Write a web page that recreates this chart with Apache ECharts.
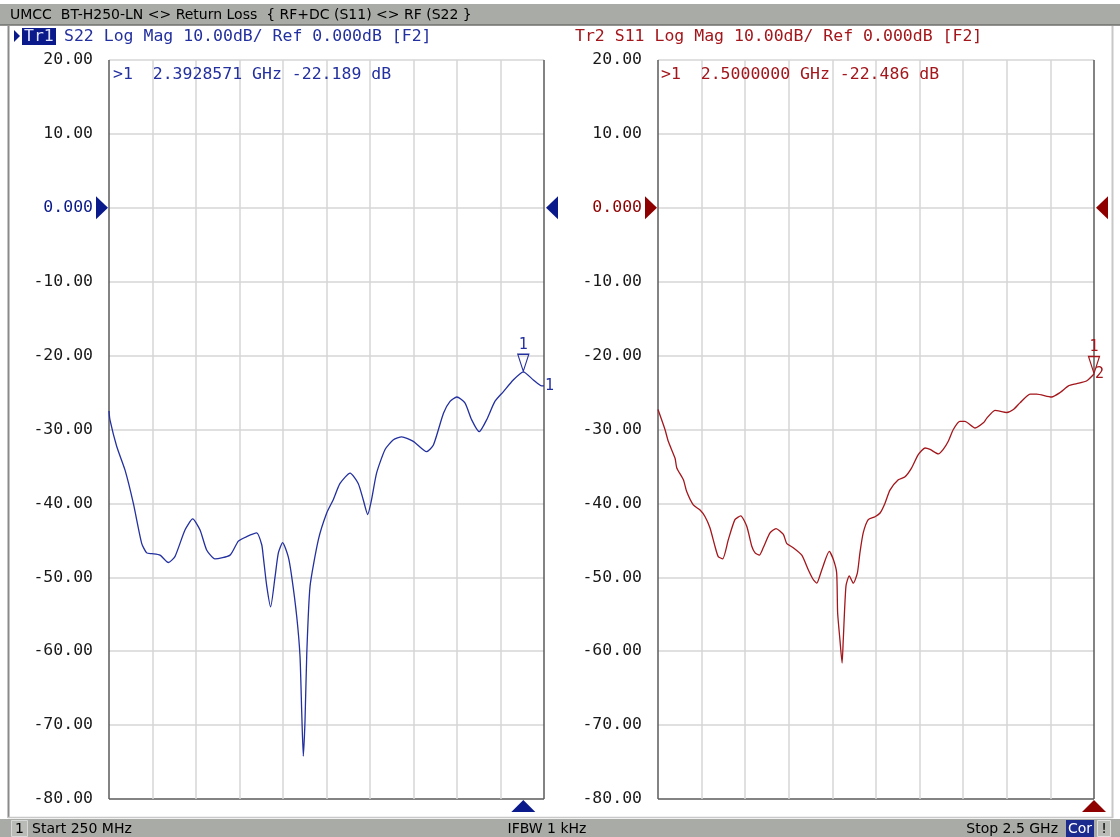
<!DOCTYPE html>
<html><head><meta charset="utf-8">
<script src="https://cdn.jsdelivr.net/npm/echarts@6/dist/echarts.min.js"></script>
<style>html,body{margin:0;padding:0;background:#fff}#c{width:1120px;height:837px}</style>
</head><body><div id="c"></div>
<script>
// ---- data (frequency in MHz, magnitude in dB) ----
const freqS22 = [250,255,290,333,376,419,445,472,514,557,591,643,683,721,755,798,876,919,962,1014,1040,1048,1066,1086,1109,1126,1148,1177,1195,1221,1238,1247,1255,1264,1273,1290,1333,1376,1410,1445,1497,1539,1565,1588,1608,1634,1678,1721,1764,1824,1893,1928,1980,2014,2049,2091,2126,2165,2203,2246,2289,2341,2392.8571,2445,2488,2500];
const dbS22   = [-27.5,-28.7,-32.3,-35.5,-40.0,-45.4,-46.7,-46.8,-47.0,-48.0,-47.2,-43.6,-42.1,-43.6,-46.3,-47.5,-47.0,-45.1,-44.5,-44.0,-45.6,-47.2,-51.2,-54.0,-49.9,-46.7,-45.3,-47.2,-49.9,-55.3,-60.7,-68.4,-74.2,-69.3,-60.3,-51.2,-44.9,-41.3,-39.5,-37.3,-35.9,-37.3,-39.5,-41.5,-39.5,-35.9,-32.7,-31.4,-31.0,-31.6,-33.0,-32.1,-27.8,-26.2,-25.6,-26.4,-28.7,-30.3,-28.7,-26.2,-24.9,-23.3,-22.189,-23.3,-24.1,-24.1];
const freqS11 = [250,286,303,338,347,381,398,432,467,493,518,544,561,584,613,647,677,708,734,751,773,793,828,859,897,914,948,992,1026,1051,1069,1095,1134,1155,1172,1177,1189,1200,1206,1220,1237,1258,1279,1292,1309,1335,1370,1396,1421,1447,1490,1525,1559,1593,1628,1654,1697,1722,1748,1774,1808,1834,1886,1929,1946,1989,2050,2084,2118,2170,2204,2281,2325,2368,2411,2463,2500];
const dbS11   = [-27.3,-30.0,-31.6,-33.9,-35.2,-36.8,-38.4,-40.2,-40.9,-41.8,-43.3,-45.8,-47.2,-47.5,-44.9,-42.2,-41.7,-43.1,-45.8,-46.7,-47.0,-46.0,-44.0,-43.4,-44.2,-45.4,-46.0,-47.0,-49.0,-50.3,-50.8,-49.0,-46.5,-47.6,-49.4,-54.8,-58.5,-61.6,-58.5,-51.2,-49.8,-50.8,-49.4,-46.7,-44.0,-42.2,-41.8,-41.3,-40.0,-38.2,-36.8,-36.4,-35.2,-33.4,-32.5,-32.7,-33.3,-32.7,-31.6,-30.0,-28.9,-28.9,-29.8,-29.1,-28.5,-27.4,-27.7,-27.3,-26.4,-25.2,-25.2,-25.6,-25.0,-24.1,-23.8,-23.4,-22.486];
const markerS22 = {freq: 2392.8571, db: -22.189};
const markerS11 = {freq: 2500.0, db: -22.486};
const freqStart = 250, freqStop = 2500;
const yMin = -80, yMax = 20, yStep = 10;
const headerS22 = 'S22 Log Mag 10.00dB/ Ref 0.000dB [F2]';
const headerS11 = 'Tr2 S11 Log Mag 10.00dB/ Ref 0.000dB [F2]';
const readoutS22 = '>1  2.3928571 GHz -22.189 dB';
const readoutS11 = '>1  2.5000000 GHz -22.486 dB';
const titleText = 'UMCC  BT-H250-LN <> Return Loss  { RF+DC (S11) <> RF (S22 }';

const BLUE = '#23309f', BLUE_D = '#0b1a8a', RED = '#a3161b', RED_D = '#8e0000';
const MONO = '"DejaVu Sans Mono", monospace';
const SANS = '"DejaVu Sans", sans-serif';
const GRIDC = '#d6d6d6', FRAME = '#5a5a5a';

const pairs = (f, d) => f.map((x, i) => [x, d[i]]);
const fmt = v => v === 0 ? '0.000' : v.toFixed(2);
// line colours per grid line: frame colour at the frame edges, light grey inside
const yLineColors = Array.from({length: (yMax - yMin) / yStep + 1}, (_, i) => i === 0 ? FRAME : GRIDC);
const xLineColors = Array.from({length: 11}, (_, i) => (i === 0 || i === 10) ? FRAME : GRIDC);

const chart = echarts.init(document.getElementById('c'));

function yAxis(gi, zeroColor) {
  return {
    gridIndex: gi, type: 'value', min: yMin, max: yMax, interval: yStep,
    axisLine: {show: false}, axisTick: {show: false},
    splitLine: {show: true, lineStyle: {color: yLineColors, width: 1.5}},
    axisLabel: {margin: 16, fontFamily: MONO, fontSize: 16.5, formatter: fmt,
      color: v => (Number(v) === 0 ? zeroColor : '#1a1a1a')}
  };
}
function freqAxis(gi) {
  return {gridIndex: gi, type: 'value', min: freqStart, max: freqStop, show: false};
}
function divAxis(gi) {
  return {gridIndex: gi, type: 'value', min: 0, max: 10, interval: 1, position: 'top',
    axisLine: {show: false}, axisTick: {show: false}, axisLabel: {show: false},
    splitLine: {show: true, lineStyle: {color: xLineColors, width: 1.5}}};
}

const triRight = 'path://M0,0 L10,10 L0,20 Z';
const triLeft = 'path://M10,0 L0,10 L10,20 Z';
const triDown = 'path://M0,0 L12,0 L6,18 Z';

function marks(mk, col, dark) {
  return {
    silent: true, animation: false,
    data: [
      {coord: [freqStart, 0], symbol: triRight, symbolSize: [12, 23], symbolOffset: [-7, 0], itemStyle: {color: dark}, label: {show: false}},
      {coord: [freqStop, 0], symbol: triLeft, symbolSize: [12, 23], symbolOffset: [8, 0], itemStyle: {color: dark}, label: {show: false}},
      {coord: [mk.freq, yMin], symbol: 'triangle', symbolSize: [24, 12], symbolOffset: [0, 7], itemStyle: {color: dark}, label: {show: false}},
      {coord: [mk.freq, mk.db], symbol: triDown, symbolSize: [11, 17], symbolOffset: [0, -9],
        itemStyle: {color: 'rgba(0,0,0,0)', borderColor: col, borderWidth: 1.3},
        label: {show: true, position: 'top', distance: 1, formatter: '1', color: col, fontFamily: MONO, fontSize: 15}}
    ]
  };
}

function series(name, xi, yi, data, col, dark, mk, endTxt) {
  return {
    name, type: 'line', xAxisIndex: xi, yAxisIndex: yi, data,
    showSymbol: false, smooth: 0.2, animation: false, z: 3,
    lineStyle: {color: col, width: 1.3},
    endLabel: {show: true, formatter: endTxt, color: col, fontFamily: MONO, fontSize: 15, distance: 1},
    markPoint: marks(mk, col, dark)
  };
}

const g = [];
// title bar
g.push({type: 'rect', shape: {x: 0, y: 4, width: 1120, height: 21}, style: {fill: '#a9aba7'}});
g.push({type: 'line', shape: {x1: 0, y1: 25, x2: 1120, y2: 25}, style: {stroke: '#6f716d', lineWidth: 1.5}});
g.push({type: 'text', x: 10, y: 15, style: {text: titleText, font: '14px ' + SANS, fill: '#000', textVerticalAlign: 'middle'}});
// window frame
g.push({type: 'line', shape: {x1: 8.5, y1: 26, x2: 8.5, y2: 818}, style: {stroke: '#8a8a8a', lineWidth: 2}});
g.push({type: 'line', shape: {x1: 1112.5, y1: 26, x2: 1112.5, y2: 818}, style: {stroke: '#c8c8c8', lineWidth: 2}});
g.push({type: 'line', shape: {x1: 8, y1: 817.5, x2: 1113, y2: 817.5}, style: {stroke: '#c8c8c8', lineWidth: 1.5}});
// headers
g.push({type: 'polygon', shape: {points: [[14, 30], [20, 36], [14, 42]]}, style: {fill: BLUE_D}});
g.push({type: 'rect', shape: {x: 22, y: 28, width: 34, height: 17}, style: {fill: BLUE_D}});
g.push({type: 'text', x: 24, y: 37, style: {text: 'Tr1', font: '16.5px ' + MONO, fill: '#dfe3ff', textVerticalAlign: 'middle'}});
g.push({type: 'text', x: 64, y: 37, style: {text: headerS22, font: '16.5px ' + MONO, fill: BLUE, textVerticalAlign: 'middle'}});
g.push({type: 'text', x: 575, y: 37, style: {text: headerS11, font: '16.5px ' + MONO, fill: RED, textVerticalAlign: 'middle'}});
// marker readouts
g.push({type: 'text', x: 113, y: 75, z: 10, style: {text: readoutS22, font: '16.5px ' + MONO, fill: BLUE, textVerticalAlign: 'middle'}});
g.push({type: 'text', x: 661, y: 75, z: 10, style: {text: readoutS11, font: '16.5px ' + MONO, fill: RED, textVerticalAlign: 'middle'}});
// status bar
g.push({type: 'rect', shape: {x: 0, y: 819, width: 1120, height: 18}, style: {fill: '#a9aba7'}});
g.push({type: 'rect', shape: {x: 11.5, y: 820.5, width: 16, height: 16}, style: {fill: '#b9bbb7', stroke: '#d8d8d8', lineWidth: 1}});
g.push({type: 'text', x: 15, y: 829, style: {text: '1', font: '14px ' + SANS, fill: '#000', textVerticalAlign: 'middle'}});
g.push({type: 'text', x: 32, y: 829, style: {text: 'Start 250 MHz', font: '14px ' + SANS, fill: '#000', textVerticalAlign: 'middle'}});
g.push({type: 'text', x: 547, y: 829, style: {text: 'IFBW 1 kHz', font: '14px ' + SANS, fill: '#000', textAlign: 'center', textVerticalAlign: 'middle'}});
g.push({type: 'text', x: 1058, y: 829, style: {text: 'Stop 2.5 GHz', font: '14px ' + SANS, fill: '#000', textAlign: 'right', textVerticalAlign: 'middle'}});
g.push({type: 'rect', shape: {x: 1066, y: 820, width: 28, height: 17}, style: {fill: '#1c2b8e'}});
g.push({type: 'text', x: 1080, y: 829, style: {text: 'Cor', font: '14px ' + SANS, fill: '#fff', textAlign: 'center', textVerticalAlign: 'middle'}});
g.push({type: 'rect', shape: {x: 1097.5, y: 820.5, width: 13, height: 16}, style: {fill: '#b9bbb7', stroke: '#e0e0e0', lineWidth: 1}});
g.push({type: 'text', x: 1104, y: 829, style: {text: '!', font: '14px ' + SANS, fill: '#000', textAlign: 'center', textVerticalAlign: 'middle'}});

chart.setOption({
  animation: false,
  backgroundColor: '#ffffff',
  grid: [
    {left: 109, top: 60, width: 435, height: 739, show: false},
    {left: 658, top: 60, width: 436, height: 739, show: false}
  ],
  xAxis: [freqAxis(0), divAxis(0), freqAxis(1), divAxis(1)],
  yAxis: [yAxis(0, BLUE_D), yAxis(1, RED_D)],
  series: [
    series('S22', 0, 0, pairs(freqS22, dbS22), BLUE, BLUE_D, markerS22, '1'),
    series('S11', 2, 1, pairs(freqS11, dbS11), RED, RED_D, markerS11, '2')
  ],
  graphic: g
});
</script>
</body></html>
